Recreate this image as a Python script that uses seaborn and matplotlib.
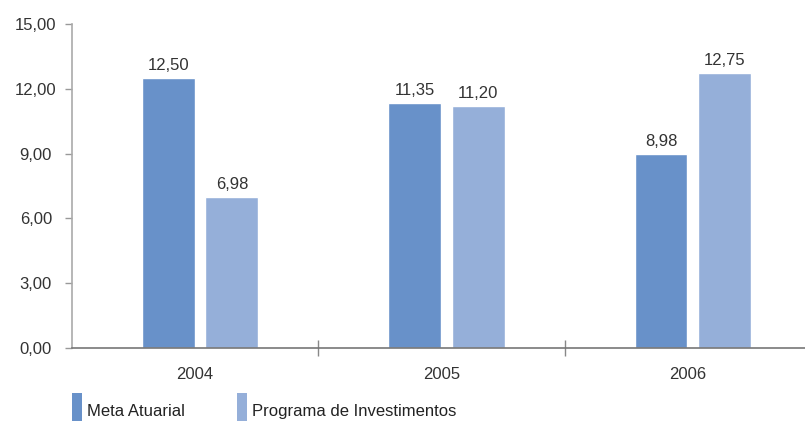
import matplotlib
matplotlib.use("Agg")
import matplotlib.pyplot as plt
import seaborn as sns
import pandas as pd
from matplotlib.patches import Rectangle

years = ["2004", "2005", "2006"]
meta_atuarial = [12.50, 11.35, 8.98]
programa_invest = [6.98, 11.20, 12.75]
series_names = ["Meta Atuarial", "Programa de Investimentos"]
y_ticks = [0, 3, 6, 9, 12, 15]

colors = ["#6891c9", "#95afd9"]
text_color = "#333333"

df = pd.DataFrame({
    "ano": years * 2,
    "valor": meta_atuarial + programa_invest,
    "serie": [series_names[0]] * 3 + [series_names[1]] * 3,
})

sns.set_style("white")
plt.rcParams["font.family"] = ["Liberation Sans", "DejaVu Sans"]

W, H = 805, 421
fig = plt.figure(figsize=(W / 100, H / 100), dpi=100)
ax = fig.add_axes([72 / W, 1 - 348 / H, 739 / W, 324 / H])

sns.barplot(data=df, x="ano", y="valor", hue="serie", palette=colors,
            width=0.516, gap=0.167, ax=ax, legend=False, saturation=1)

# bar pairs sit slightly right of the category centre
for cont in ax.containers:
    for bar in cont:
        bar.set_x(bar.get_x() + 0.02)


def fmt(v):
    return f"{v:.2f}".replace(".", ",")


for cont in ax.containers:
    for bar in cont:
        h = bar.get_height()
        ax.text(bar.get_x() + bar.get_width() / 2, h + 0.36, fmt(h),
                ha="center", va="baseline", fontsize=12, color=text_color)

ax.set_xlim(-0.5, 2.5)
ax.set_ylim(0, 15)
ax.set_yticks(y_ticks)
ax.set_yticklabels([fmt(v) for v in y_ticks], fontsize=12, color=text_color,
                   ha="center")
ax.set_xticks(range(3))
ax.set_xticklabels(years, fontsize=12, color=text_color)
ax.tick_params(axis="x", length=0, pad=14)
ax.tick_params(axis="y", length=5, width=1, color="#999999", pad=21,
               left=True)
ax.set_xticks([0.5, 1.5], minor=True)
ax.tick_params(axis="x", which="minor", direction="inout", length=12,
               width=1, color="#888888", bottom=True)
ax.set_xlabel("")
ax.set_ylabel("")

sns.despine(ax=ax, top=True, right=True)
ax.spines["left"].set_color("#aaaaaa")
ax.spines["left"].set_linewidth(1.2)
ax.spines["bottom"].set_color("#777777")
ax.spines["bottom"].set_linewidth(1.2)

# legend along the bottom edge: tall swatches with text beside them
legend_items = [(72, 87), (237, 252)]
for (px, tx), c, name in zip(legend_items, colors, series_names):
    fig.add_artist(Rectangle((px / W, 0), 10 / W, (H - 393) / H,
                             transform=fig.transFigure, facecolor=c,
                             edgecolor="none"))
    fig.text(tx / W, 1 - 416 / H, name, fontsize=12, color="#222222",
             ha="left", va="baseline")

fig.savefig("out.png", dpi=100)
